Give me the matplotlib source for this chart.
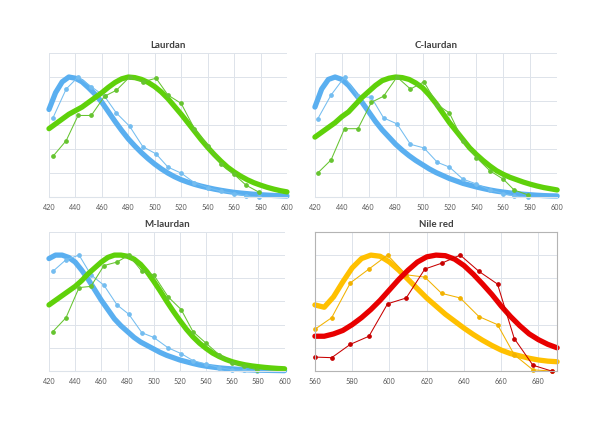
"""
Espectros de emisión normalizados: Laurdan, C-laurdan, M-laurdan y Nile red.
"""

import matplotlib
matplotlib.use("Agg")
import matplotlib.pyplot as plt

# ── Datos ─────────────────────────────────────────────────────────────────────

# curvas gruesas (cada 5 nm)
WL_LAU = list(range(420, 605, 5))
WL_NR = list(range(560, 695, 5))

LAU_BLUE_FIT = [0.73, 0.87, 0.96, 1.00, 0.99, 0.96, 0.91, 0.855, 0.79, 0.71,
                0.63, 0.555, 0.485, 0.425, 0.37, 0.32, 0.275, 0.235, 0.20, 0.17,
                0.145, 0.125, 0.107, 0.092, 0.079, 0.067, 0.057, 0.048, 0.04, 0.034,
                0.029, 0.024, 0.02, 0.017, 0.014, 0.012, 0.01]
LAU_GREEN_FIT = [0.57, 0.61, 0.65, 0.69, 0.72, 0.75, 0.79, 0.83, 0.87, 0.915,
                 0.955, 0.985, 1.00, 0.995, 0.98, 0.955, 0.92, 0.875, 0.82, 0.755,
                 0.69, 0.62, 0.55, 0.48, 0.415, 0.355, 0.30, 0.25, 0.21, 0.175,
                 0.145, 0.12, 0.10, 0.082, 0.067, 0.054, 0.044]

CLA_BLUE_FIT = [0.75, 0.90, 0.98, 1.00, 0.98, 0.93, 0.86, 0.79, 0.71, 0.63,
                0.56, 0.50, 0.44, 0.39, 0.345, 0.305, 0.27, 0.235, 0.205, 0.18,
                0.155, 0.135, 0.115, 0.10, 0.085, 0.072, 0.06, 0.05, 0.042, 0.035,
                0.029, 0.024, 0.02, 0.016, 0.013, 0.011, 0.01]
CLA_GREEN_FIT = [0.50, 0.54, 0.58, 0.62, 0.67, 0.71, 0.77, 0.83, 0.88, 0.93,
                 0.97, 0.99, 1.00, 0.995, 0.98, 0.95, 0.91, 0.85, 0.78, 0.70,
                 0.62, 0.55, 0.48, 0.41, 0.355, 0.305, 0.26, 0.22, 0.19, 0.165,
                 0.145, 0.125, 0.108, 0.093, 0.08, 0.07, 0.06]

MLA_BLUE_FIT = [0.97, 1.00, 1.00, 0.98, 0.94, 0.87, 0.79, 0.70, 0.61, 0.53,
                0.45, 0.39, 0.34, 0.29, 0.25, 0.22, 0.19, 0.16, 0.135, 0.115,
                0.095, 0.08, 0.065, 0.052, 0.042, 0.034, 0.027, 0.022, 0.018, 0.014,
                0.011, 0.009, 0.007, 0.006, 0.005, 0.004, 0.003]
MLA_GREEN_FIT = [0.57, 0.61, 0.65, 0.69, 0.73, 0.78, 0.84, 0.89, 0.94, 0.98,
                 1.00, 1.00, 0.99, 0.965, 0.92, 0.855, 0.775, 0.69, 0.60, 0.515,
                 0.435, 0.36, 0.295, 0.24, 0.195, 0.155, 0.125, 0.10, 0.08, 0.065,
                 0.053, 0.044, 0.037, 0.031, 0.026, 0.022, 0.019]

NR_ORANGE_FIT = [0.57, 0.55, 0.64, 0.77, 0.89, 0.97, 1.00, 0.99, 0.94, 0.87,
                 0.79, 0.71, 0.63, 0.56, 0.49, 0.43, 0.37, 0.315, 0.265, 0.22,
                 0.18, 0.15, 0.13, 0.11, 0.095, 0.085, 0.08]
NR_RED_FIT = [0.30, 0.30, 0.32, 0.35, 0.40, 0.46, 0.53, 0.61, 0.70, 0.79,
              0.87, 0.94, 0.985, 1.00, 0.995, 0.965, 0.91, 0.835, 0.75, 0.66,
              0.56, 0.47, 0.39, 0.32, 0.27, 0.23, 0.20]

# espectros medidos (puntos)
LAU_WL = [423, 433, 442, 452, 462, 471, 481, 491, 501, 510, 520, 530, 540,
          550, 560, 569, 579]
LAU_BLUE = [0.66, 0.90, 1.00, 0.92, 0.84, 0.70, 0.59, 0.42, 0.36, 0.25,
            0.20, 0.12, 0.08, 0.05, 0.03, 0.01, 0.00]
LAU_GREEN = [0.34, 0.47, 0.68, 0.68, 0.84, 0.89, 1.00, 0.96, 0.99, 0.85,
             0.78, 0.57, 0.43, 0.28, 0.19, 0.10, 0.04]

CLA_WL = [422, 432, 442, 452, 462, 471, 481, 491, 501, 511, 520, 530, 540,
          550, 560, 568, 578]
CLA_BLUE = [0.65, 0.85, 1.00, 0.84, 0.83, 0.66, 0.61, 0.44, 0.41, 0.29,
            0.25, 0.15, 0.11, 0.06, 0.03, 0.01, 0.00]
CLA_GREEN = [0.20, 0.31, 0.57, 0.57, 0.79, 0.84, 1.00, 0.90, 0.96, 0.77,
             0.70, 0.47, 0.33, 0.22, 0.15, 0.06, 0.02]

MLA_WL = [423, 433, 443, 452, 462, 472, 481, 491, 500, 511, 521, 530, 540,
          550, 560, 569, 579]
MLA_BLUE = [0.86, 0.96, 1.00, 0.83, 0.74, 0.57, 0.49, 0.33, 0.29, 0.20,
            0.15, 0.09, 0.06, 0.03, 0.01, 0.005, 0.00]
MLA_GREEN = [0.34, 0.46, 0.72, 0.73, 0.91, 0.94, 1.00, 0.86, 0.83, 0.64,
             0.53, 0.34, 0.24, 0.14, 0.07, 0.04, 0.01]

NR_WL = [560, 569, 579, 589, 599, 609, 619, 628, 638, 648, 658, 667, 677, 687]
NR_ORANGE = [0.36, 0.46, 0.76, 0.88, 1.00, 0.83, 0.81, 0.67, 0.63, 0.47,
             0.40, 0.14, 0.01, 0.00]
NR_RED = [0.12, 0.115, 0.23, 0.30, 0.58, 0.63, 0.88, 0.93, 1.00, 0.86,
          0.75, 0.28, 0.05, 0.00]

LAU_TICKS = [420, 440, 460, 480, 500, 520, 540, 560, 580, 600]
NR_TICKS = [560, 580, 600, 620, 640, 660, 680]
Y_GRID = [0.0, 0.2, 0.4, 0.6, 0.8, 1.0, 1.2]

# ── Estilo ────────────────────────────────────────────────────────────────────

BLUE_THICK = "#5aaff0"
BLUE_THIN = "#74bdf0"
GREEN_THICK = "#5fd10a"
GREEN_THIN = "#66c430"
ORANGE_THICK = "#ffc000"
ORANGE_THIN = "#f2b200"
RED_THICK = "#e80000"
RED_THIN = "#c80000"
GRID = "#dde3ea"

plt.rcParams.update({
    "font.family": "Lato",
    "figure.facecolor": "white",
    "axes.facecolor": "white",
})


def panel(ax, title, xlim, ticks, boxed=False):
    ax.set_xlim(*xlim)
    ax.set_ylim(0, 1.2)
    ax.set_xticks(ticks)
    ax.set_yticks(Y_GRID)
    ax.set_yticklabels([])
    ax.grid(True, color=GRID, linewidth=0.7)
    ax.set_axisbelow(True)
    ax.tick_params(length=0, labelsize=5.2, labelcolor="#595959", pad=5)
    for side, sp in ax.spines.items():
        if boxed:
            sp.set_color("#b4b4b4")
            sp.set_linewidth(0.8)
        else:
            sp.set_visible(side == "bottom")
            sp.set_color(GRID)
    ax.set_title(title, fontsize=7, fontweight="bold", color="#404040", pad=3.5)


def thick(ax, x, y, color):
    ax.plot(x, y, color=color, linewidth=3.8, solid_capstyle="round",
            solid_joinstyle="round", clip_on=False)


def thin(ax, x, y, color):
    ax.plot(x, y, color=color, linewidth=0.75, marker="o", markersize=2.4,
            clip_on=False)


fig = plt.figure(figsize=(6.01, 4.24), dpi=100)

ax1 = fig.add_axes([0.0815, 0.535, 0.396, 0.340])
ax2 = fig.add_axes([0.524, 0.535, 0.403, 0.340])
ax3 = fig.add_axes([0.0815, 0.125, 0.392, 0.328])
ax4 = fig.add_axes([0.524, 0.125, 0.403, 0.328])

# Laurdan
panel(ax1, "Laurdan", (420, 600), LAU_TICKS)
thick(ax1, WL_LAU, LAU_BLUE_FIT, BLUE_THICK)
thin(ax1, LAU_WL, LAU_BLUE, BLUE_THIN)
thick(ax1, WL_LAU, LAU_GREEN_FIT, GREEN_THICK)
thin(ax1, LAU_WL, LAU_GREEN, GREEN_THIN)

# C-laurdan
panel(ax2, "C-laurdan", (420, 600), LAU_TICKS)
thick(ax2, WL_LAU, CLA_BLUE_FIT, BLUE_THICK)
thin(ax2, CLA_WL, CLA_BLUE, BLUE_THIN)
thick(ax2, WL_LAU, CLA_GREEN_FIT, GREEN_THICK)
thin(ax2, CLA_WL, CLA_GREEN, GREEN_THIN)

# M-laurdan
panel(ax3, "M-laurdan", (420, 600), LAU_TICKS)
thick(ax3, WL_LAU, MLA_BLUE_FIT, BLUE_THICK)
thin(ax3, MLA_WL, MLA_BLUE, BLUE_THIN)
thick(ax3, WL_LAU, MLA_GREEN_FIT, GREEN_THICK)
thin(ax3, MLA_WL, MLA_GREEN, GREEN_THIN)

# Nile red
panel(ax4, "Nile red", (560, 690), NR_TICKS, boxed=True)
thick(ax4, WL_NR, NR_ORANGE_FIT, ORANGE_THICK)
thin(ax4, NR_WL, NR_ORANGE, ORANGE_THIN)
thick(ax4, WL_NR, NR_RED_FIT, RED_THICK)
thin(ax4, NR_WL, NR_RED, RED_THIN)

fig.savefig("out.png", dpi=100)
plt.close(fig)
